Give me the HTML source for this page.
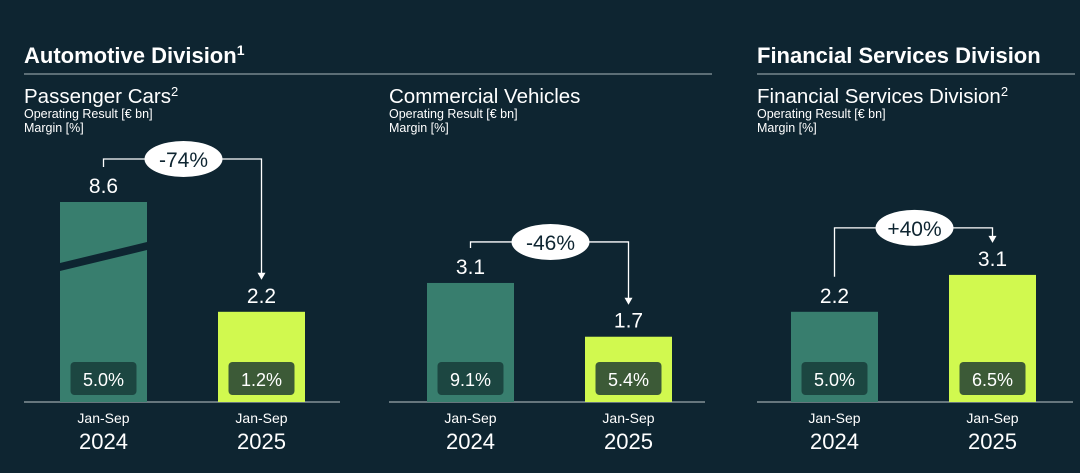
<!DOCTYPE html>
<html><head><meta charset="utf-8"><style>
html,body{margin:0;padding:0;background:#0e2531;}
body{width:1080px;height:473px;overflow:hidden;font-family:"Liberation Sans",sans-serif;}
</style></head><body>
<svg id="c" width="1080" height="473" xmlns="http://www.w3.org/2000/svg" style="display:block">
<rect width="1080" height="473" fill="#0e2531"/>
<text x="24" y="63" fill="#fff" font-size="22" font-weight="bold">Automotive Division<tspan font-size="14" dy="-8">1</tspan></text>
<line x1="24" y1="74" x2="712" y2="74" stroke="#8c9aa0" stroke-width="1.2"/>
<text x="757" y="63" fill="#fff" font-size="22" font-weight="bold">Financial Services Division</text>
<line x1="757" y1="74" x2="1075" y2="74" stroke="#8c9aa0" stroke-width="1.2"/>
</svg>
<script>
const panelTitles=["Passenger Cars","Commercial Vehicles","Financial Services Division"];
const panelSup=["2","","2"];
const results2024=[8.6,3.1,2.2];
const results2025=[2.2,1.7,3.1];
const margins2024=["5.0%","9.1%","5.0%"];
const margins2025=["1.2%","5.4%","6.5%"];
const changes=["-74%","-46%","+40%"];
const periods=["Jan-Sep","Jan-Sep"];
const years=["2024","2025"];

const svg=document.getElementById('c');
const NS='http://www.w3.org/2000/svg';
function el(t,a,txt){const e=document.createElementNS(NS,t);for(const k in a)e.setAttribute(k,a[k]);if(txt!==undefined)e.textContent=txt;svg.appendChild(e);return e;}
const panelX=[24,389,757];
const barOff=[36,38,34];
const scales=[41,38.4,41];
const hyOff=[43,41,47];
const base=402, maxH=200, bw=87;
for(let p=0;p<3;p++){
  const x0=panelX[p];
  let t=el('text',{x:x0,y:103,fill:'#fff','font-size':20.5});
  
  
  t.textContent=panelTitles[p];
  if(panelSup[p]){const s=document.createElementNS(NS,'tspan');s.setAttribute('font-size','13');s.setAttribute('dy','-7');s.textContent=panelSup[p];t.appendChild(s);}
  t=el('text',{x:x0,y:118,fill:'#fff','font-size':12.5},'Operating Result [€ bn]');
  
  
  t=el('text',{x:x0,y:132,fill:'#fff','font-size':12.5},'Margin [%]');
  
  
  const ax=el('line',{x1:x0,y1:base,x2:x0+316,y2:base,stroke:'#9aa6ab','stroke-width':1.2});
  
  
  const vals=[results2024[p],results2025[p]], mg=[margins2024[p],margins2025[p]];
  const tops=[];
  for(let i=0;i<2;i++){
    const bx=x0+barOff[p]+i*158;
    let h=vals[i]*scales[p]; let broken=false;
    if(h>maxH){h=maxH;broken=true;}
    const top=base-h; tops.push(top);
    const r=el('rect',{x:bx,y:top,width:bw,height:h,fill:i?'#d1f94f':'#387e6e'});
    
    
    if(broken){
      const b=el('polygon',{points:`${bx},${top+61} ${bx+bw},${top+40} ${bx+bw},${top+48} ${bx},${top+69}`,fill:'#0e2531'});
      
      
    }
    const cx=bx+bw/2;
    const v=el('text',{x:cx,y:top-9,fill:'#fff','font-size':21,'text-anchor':'middle'},vals[i].toFixed(1));
    
    
    const m=el('rect',{x:cx-33,y:362,width:66,height:33,rx:4,fill:i?'#3c5a37':'#1c4641'});
    
    
    const mt=el('text',{x:cx,y:386,fill:'#fff','font-size':18,'text-anchor':'middle'},mg[i]);
    
    
    const pl=el('text',{x:cx,y:423,fill:'#fff','font-size':14,'text-anchor':'middle'},periods[i]);
    
    
    const yl=el('text',{x:cx,y:449,fill:'#fff','font-size':22,'text-anchor':'middle'},years[i]);
    
    
  }
  const lx=x0+barOff[p]+bw/2, rx=x0+barOff[p]+158+bw/2;
  const hy=Math.min(tops[0],tops[1])-hyOff[p];
  const ly=Math.max(tops[0]-35,hy+3), ry=tops[1]-33;
  const pth=el('path',{d:`M${lx},${ly} V${hy} H${rx} V${ry-5}`,fill:'none',stroke:'#fff','stroke-width':1.3});
  
  
  const ah=el('polygon',{points:`${rx-4},${ry-6} ${rx+4},${ry-6} ${rx},${ry+1}`,fill:'#fff'});
  
  
  const ex=(lx+rx)/2+1;
  const e=el('ellipse',{cx:ex,cy:hy,rx:39,ry:18,fill:'#fff'});
  
  
  const ct=el('text',{x:ex,y:hy+8,fill:'#0e2531','font-size':21,'text-anchor':'middle'},changes[p]);
  
  
}
</script>
</body></html>
